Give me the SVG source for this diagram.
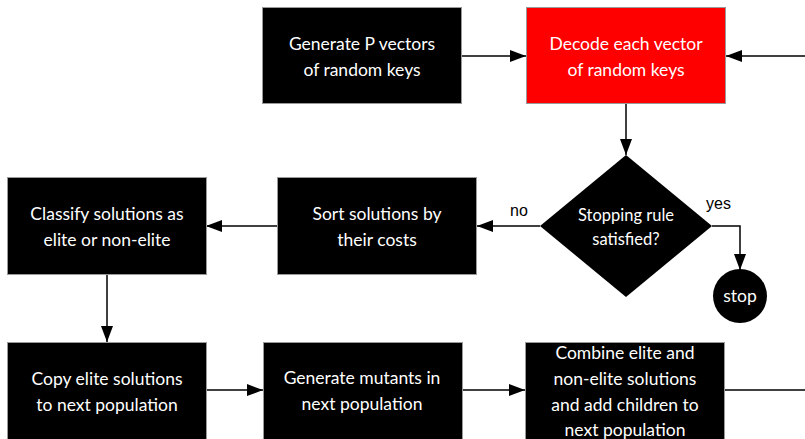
<svg xmlns="http://www.w3.org/2000/svg" width="805" height="439" viewBox="0 0 805 439">
<defs>
<style>
.box{fill:#000;stroke:#999;stroke-width:1}
.red{fill:#ff0000;stroke:#999;stroke-width:1}
.t{fill:#fff;font-family:Lato,"Open Sans","Liberation Sans",sans-serif;font-size:17.5px;text-anchor:middle}
.lbl{fill:#000;font-family:"Liberation Sans",Arial,sans-serif;font-size:16px}
.c{fill:none;stroke:#000;stroke-width:1.5}
</style>
<marker id="ah" markerWidth="16" markerHeight="12" refX="16" refY="6" orient="auto" markerUnits="userSpaceOnUse">
<path d="M0,0 L16,6 L0,12 Z" fill="#000"/>
</marker>
</defs>
<g id="connectors">
<path class="c" d="M462,56 H526" marker-end="url(#ah)"/>
<path class="c" d="M805,56 H726" marker-end="url(#ah)"/>
<path class="c" d="M626,103 V155" marker-end="url(#ah)"/>
<path class="c" d="M540,226 H477" marker-end="url(#ah)"/>
<path class="c" d="M712,226 H740 V270" marker-end="url(#ah)"/>
<path class="c" d="M277,226 H206" marker-end="url(#ah)"/>
<path class="c" d="M107,274 V342" marker-end="url(#ah)"/>
<path class="c" d="M206,390 H263" marker-end="url(#ah)"/>
<path class="c" d="M462,390 H525" marker-end="url(#ah)"/>
<path class="c" d="M724,390 H805"/>
<text class="lbl" x="510" y="216">no</text>
<text class="lbl" x="706" y="209">yes</text>
</g>
<g id="generate">
<rect class="box" x="262.5" y="7.5" width="199" height="96"/>
<text class="t" x="362" y="50">Generate P vectors</text>
<text class="t" x="362" y="76">of random keys</text>
</g>
<g id="decode">
<rect class="red" x="526.5" y="7.5" width="199" height="96"/>
<text class="t" x="626" y="50">Decode each vector</text>
<text class="t" x="626" y="76">of random keys</text>
</g>
<g id="stopping">
<polygon points="626,155 712,226 626,297 540,226" fill="#000"/>
<text class="t" x="626" y="221" style="font-size:16.5px">Stopping rule</text>
<text class="t" x="626" y="245" style="font-size:16.5px">satisfied?</text>
</g>
<g id="stop">
<circle cx="740" cy="296" r="27" fill="#000"/>
<text class="t" x="740" y="302">stop</text>
</g>
<g id="sort">
<rect class="box" x="277.5" y="177.5" width="199" height="97"/>
<text class="t" x="377" y="220">Sort solutions by</text>
<text class="t" x="377" y="246">their costs</text>
</g>
<g id="classify">
<rect class="box" x="7.5" y="177.5" width="199" height="97"/>
<text class="t" x="107" y="220">Classify solutions as</text>
<text class="t" x="107" y="246">elite or non-elite</text>
</g>
<g id="copy">
<rect class="box" x="7.5" y="342.5" width="199" height="100"/>
<text class="t" x="107" y="385">Copy elite solutions</text>
<text class="t" x="107" y="411">to next population</text>
</g>
<g id="mutants">
<rect class="box" x="263.5" y="342.5" width="199" height="100"/>
<text class="t" x="362" y="384">Generate mutants in</text>
<text class="t" x="362" y="410">next population</text>
</g>
<g id="combine">
<rect class="box" x="525.5" y="342.5" width="199" height="100"/>
<text class="t" x="625" y="359">Combine elite and</text>
<text class="t" x="625" y="385">non-elite solutions</text>
<text class="t" x="625" y="411">and add children to</text>
<text class="t" x="625" y="436">next population</text>
</g>
</svg>
